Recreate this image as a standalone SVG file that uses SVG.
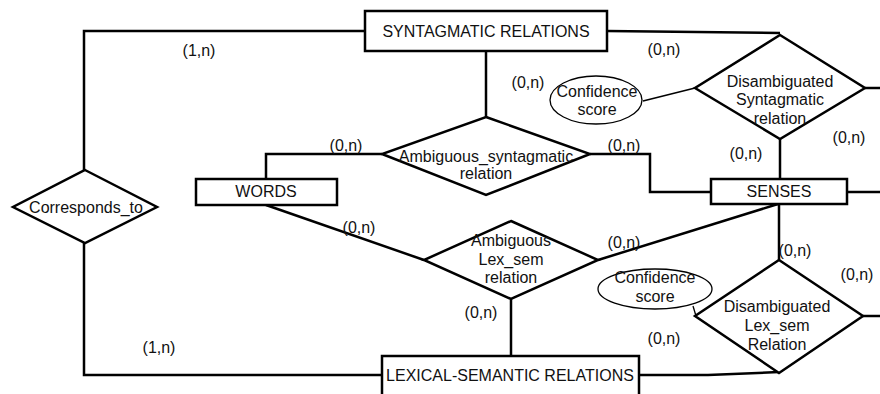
<svg xmlns="http://www.w3.org/2000/svg" width="880" height="394" viewBox="0 0 880 394">
  <style>
    .bg { fill: #ffffff; }
    .ent { fill: #ffffff; stroke: #000000; stroke-width: 2.5; }
    .rel { fill: #ffffff; stroke: #000000; stroke-width: 2.5; stroke-linejoin: miter; }
    .attr { fill: #ffffff; stroke: #000000; stroke-width: 1.3; }
    .edge { fill: none; stroke: #000000; stroke-width: 2.5; }
    .thin { fill: none; stroke: #000000; stroke-width: 1.3; }
    text { font-family: "Liberation Sans", Arial, sans-serif; font-size: 16px; fill: #111111; text-anchor: middle; }
    .card { font-size: 16px; }
  </style>
  <rect class="bg" x="0" y="0" width="880" height="394"/>

  <!-- connectors -->
  <g id="connectors">
    <polyline class="edge" points="365,31 84,31 84,170"/>
    <polyline class="edge" points="84,243 84,375 382,375"/>
    <line class="edge" x1="486" y1="51" x2="486" y2="117"/>
    <line class="edge" x1="607" y1="31" x2="780" y2="33"/>
    <line class="edge" x1="865" y1="88" x2="880" y2="88"/>
    <line class="edge" x1="780" y1="139" x2="780" y2="179"/>
    <polyline class="edge" points="266,179 266,154 382,154"/>
    <polyline class="edge" points="590,154 650,154 650,192 711,192"/>
    <line class="edge" x1="847" y1="192" x2="880" y2="192"/>
    <line class="edge" x1="266" y1="205" x2="424" y2="260"/>
    <line class="edge" x1="598" y1="260" x2="778" y2="204"/>
    <line class="edge" x1="779" y1="204" x2="779" y2="260"/>
    <line class="edge" x1="511" y1="299" x2="511" y2="356"/>
    <polyline class="edge" points="639,375 708,375 779,372"/>
    <line class="edge" x1="863" y1="316" x2="880" y2="316"/>
    <line class="thin" x1="643" y1="101" x2="695" y2="88"/>
    <line class="thin" x1="693" y1="306" x2="696" y2="316"/>
  </g>

  <!-- entities -->
  <g id="syntagmatic-relations">
    <rect class="ent" x="365" y="11" width="242" height="40"/>
    <text x="486" y="37">SYNTAGMATIC RELATIONS</text>
  </g>
  <g id="words">
    <rect class="ent" x="196" y="179" width="141" height="26"/>
    <text x="266" y="197">WORDS</text>
  </g>
  <g id="senses">
    <rect class="ent" x="711" y="179" width="136" height="25"/>
    <text x="779" y="197">SENSES</text>
  </g>
  <g id="lexical-semantic-relations">
    <rect class="ent" x="382" y="356" width="257" height="44"/>
    <text x="510" y="381">LEXICAL-SEMANTIC RELATIONS</text>
  </g>

  <!-- relationships -->
  <g id="corresponds-to">
    <polygon class="rel" points="85,170 157,207 85,243 13,207"/>
    <text x="86" y="213">Corresponds_to</text>
  </g>
  <g id="ambiguous-syntagmatic-relation">
    <polygon class="rel" points="486,117 590,154 486,195 382,154"/>
    <text x="486" y="162">Ambiguous_syntagmatic</text>
    <text x="486" y="179">relation</text>
  </g>
  <g id="disambiguated-syntagmatic-relation">
    <polygon class="rel" points="780,35 865,88 780,139 695,88"/>
    <text x="780" y="87">Disambiguated</text>
    <text x="780" y="105">Syntagmatic</text>
    <text x="780" y="124">relation</text>
  </g>
  <g id="ambiguous-lex-sem-relation">
    <polygon class="rel" points="511,221 598,260 511,299 424,260"/>
    <text x="511" y="246">Ambiguous</text>
    <text x="511" y="265">Lex_sem</text>
    <text x="511" y="283">relation</text>
  </g>
  <g id="disambiguated-lex-sem-relation">
    <polygon class="rel" points="779,260 863,316 779,373 695,316"/>
    <text x="777" y="312">Disambiguated</text>
    <text x="777" y="331">Lex_sem</text>
    <text x="777" y="350">Relation</text>
  </g>

  <!-- attributes -->
  <g id="confidence-score-syntagmatic">
    <ellipse class="attr" cx="596" cy="100" rx="46" ry="24"/>
    <text x="597" y="97">Confidence</text>
    <text x="597" y="115">score</text>
  </g>
  <g id="confidence-score-lex-sem">
    <ellipse class="attr" cx="655" cy="289" rx="57" ry="20"/>
    <text x="655" y="283">Confidence</text>
    <text x="655" y="302">score</text>
  </g>

  <!-- cardinalities -->
  <g id="cardinalities">
    <text class="card" x="199" y="56">(1,n)</text>
    <text class="card" x="664" y="55">(0,n)</text>
    <text class="card" x="528" y="88">(0,n)</text>
    <text class="card" x="346" y="151">(0,n)</text>
    <text class="card" x="624" y="151">(0,n)</text>
    <text class="card" x="746" y="159">(0,n)</text>
    <text class="card" x="849" y="143">(0,n)</text>
    <text class="card" x="359" y="233">(0,n)</text>
    <text class="card" x="624" y="248">(0,n)</text>
    <text class="card" x="795" y="256">(0,n)</text>
    <text class="card" x="857" y="280">(0,n)</text>
    <text class="card" x="481" y="318">(0,n)</text>
    <text class="card" x="664" y="344">(0,n)</text>
    <text class="card" x="159" y="353">(1,n)</text>
  </g>
</svg>
